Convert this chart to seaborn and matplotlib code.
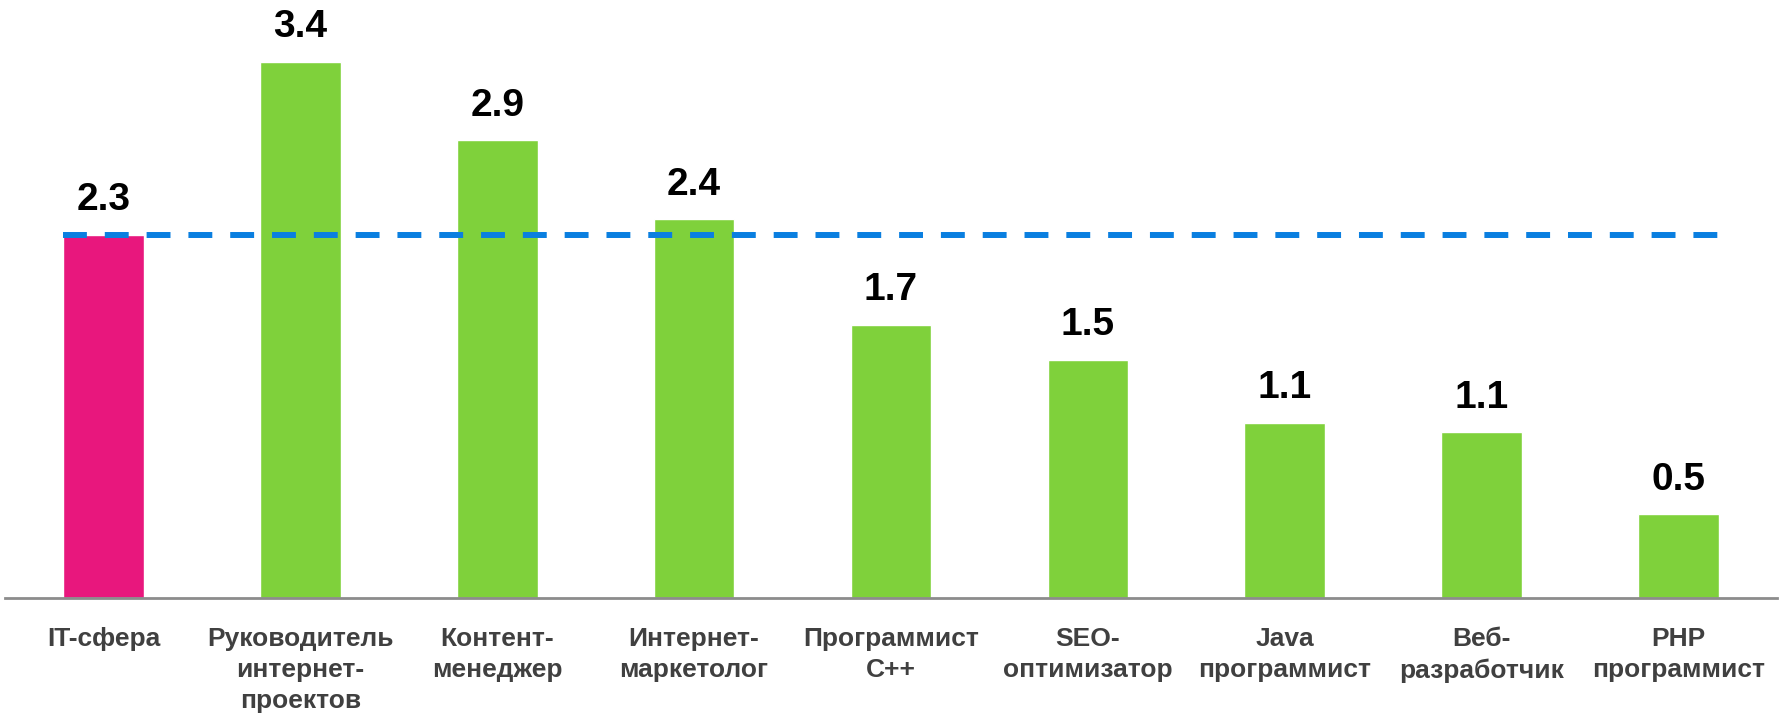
import matplotlib
matplotlib.use("Agg")
import matplotlib.pyplot as plt
import seaborn as sns

# categories and values
professions = [
    "IT-сфера",
    "Руководитель\nинтернет-\nпроектов",
    "Контент-\nменеджер",
    "Интернет-\nмаркетолог",
    "Программист\nC++",
    "SEO-\nоптимизатор",
    "Java\nпрограммист",
    "Веб-\nразработчик",
    "PHP\nпрограммист",
]
growth = [2.3, 3.4, 2.9, 2.4, 1.73, 1.51, 1.11, 1.05, 0.53]
value_labels = ["2.3", "3.4", "2.9", "2.4", "1.7", "1.5", "1.1", "1.1", "0.5"]
it_average = 2.3

bar_colors = ["#E8177D"] + ["#7FD13B"] * 8

sns.set_theme(style="white")
plt.rcParams["font.family"] = ["Liberation Sans", "DejaVu Sans"]

fig = plt.figure(figsize=(17.87, 7.15), dpi=100)
ax = fig.add_axes([5 / 1787, 117 / 715, 1772 / 1787, 598 / 715])

sns.barplot(x=professions, y=growth, hue=professions, palette=bar_colors,
            legend=False, width=0.41, saturation=1, ax=ax)

# average line for the whole IT sector
ax.hlines(it_average, -0.205, 8.205, colors="#0A7FE0", linewidth=4.3,
          linestyles=(0, (4, 3)), zorder=3)

for i, (v, lab) in enumerate(zip(growth, value_labels)):
    ax.annotate(lab, (i, v), xytext=(0, 12), textcoords="offset points",
                ha="center", va="bottom", fontsize=28, fontweight="bold",
                color="black")

ax.set_xlim(-0.5, 8.5)
ax.set_ylim(0, 3.79)
ax.set_yticks([])
ax.set_ylabel("")
for side in ["left", "right", "top"]:
    ax.spines[side].set_visible(False)
ax.spines["bottom"].set_color("#8C8C8C")
ax.spines["bottom"].set_linewidth(2)

ax.tick_params(axis="x", length=0, pad=21)
for t in ax.get_xticklabels():
    t.set_fontsize(19)
    t.set_fontweight("bold")
    t.set_color("#404040")
    t.set_linespacing(1.36)

fig.savefig("out.png", dpi=100)
